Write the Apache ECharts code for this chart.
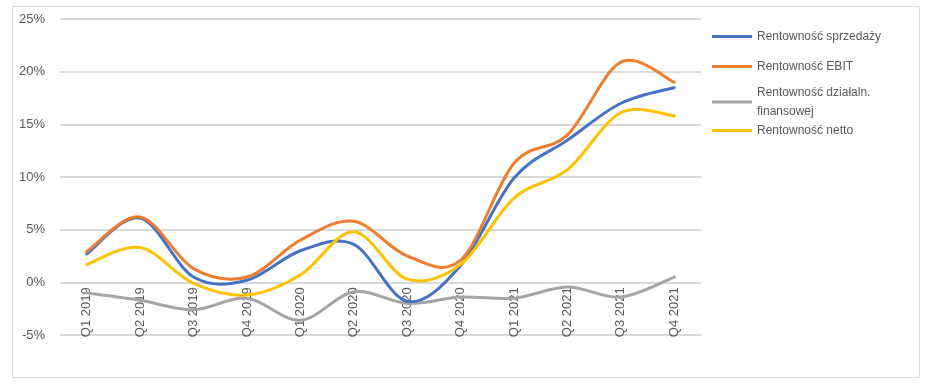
<!DOCTYPE html>
<html>
<head>
<meta charset="utf-8">
<script src="https://cdn.jsdelivr.net/npm/echarts@6/dist/echarts.min.js"></script>
<style>html,body{margin:0;padding:0;background:#fff}#c{width:928px;height:385px}</style>
</head>
<body>
<div id="c"></div>
<script>
const categories = ['Q1 2019','Q2 2019','Q3 2019','Q4 2019','Q1 2020','Q2 2020','Q3 2020','Q4 2020','Q1 2021','Q2 2021','Q3 2021','Q4 2021'];
const sprzedazy = [2.7, 6.1, 0.5, 0.2, 3.0, 3.6, -1.8, 1.6, 9.9, 13.5, 17.0, 18.5];
const ebit = [2.9, 6.2, 1.3, 0.5, 4.0, 5.8, 2.5, 2.1, 11.3, 14.0, 20.9, 19.0];
const finansowej = [-1.0, -1.7, -2.6, -1.5, -3.6, -0.9, -2.0, -1.4, -1.5, -0.45, -1.4, 0.5];
const netto = [1.7, 3.3, -0.1, -1.2, 0.7, 4.8, 0.3, 1.7, 8.0, 10.7, 16.1, 15.8];
const yTicks = {min: -5, max: 25, interval: 5};

const names = ['Rentowność sprzedaży','Rentowność EBIT','Rentowność działaln.\nfinansowej','Rentowność netto'];
const colors = ['#4472C4','#ED7D31','#A5A5A5','#FFC000'];
const dataSets = [sprzedazy, ebit, finansowej, netto];
const order = [2, 0, 1, 3]; // draw order (gray behind)
const font = 'Liberation Sans';
const legendTops = [27, 57, 83, 121];
const gridTop = 19, gridBottom = 50, H = 385;
const zeroOffset = -((H - gridTop - gridBottom) * (0 - yTicks.min) / (yTicks.max - yTicks.min));

function makeRender(arr, color) {
  return function (params, api) {
    if (params.dataIndex !== 0) return null;
    const pts = arr.map((v, i) => api.coord([i, v]));
    let d = 'M' + pts[0][0] + ' ' + pts[0][1];
    for (let i = 0; i < pts.length - 1; i++) {
      const p0 = pts[Math.max(i - 1, 0)], p1 = pts[i], p2 = pts[i + 1], p3 = pts[Math.min(i + 2, pts.length - 1)];
      const c1x = p1[0] + (p2[0] - p0[0]) / 6, c1y = p1[1] + (p2[1] - p0[1]) / 6;
      const c2x = p2[0] - (p3[0] - p1[0]) / 6, c2y = p2[1] - (p3[1] - p1[1]) / 6;
      d += ' C' + c1x + ' ' + c1y + ' ' + c2x + ' ' + c2y + ' ' + p2[0] + ' ' + p2[1];
    }
    return {type: 'path', shape: {pathData: d}, style: {fill: 'none', stroke: color, lineWidth: 3, lineCap: 'round', lineJoin: 'round'}};
  };
}

const chart = echarts.init(document.getElementById('c'));
chart.setOption({
  animation: false,
  textStyle: {fontFamily: font},
  graphic: [{type: 'rect', shape: {x: 12.5, y: 6.5, width: 907, height: 371}, style: {fill: 'none', stroke: '#d9d9d9', lineWidth: 1}, silent: true}],
  grid: {left: 60, right: 227, top: gridTop, bottom: gridBottom, containLabel: false, outerBoundsMode: 'none'},
  legend: names.map((n, i) => ({
    orient: 'vertical', left: 712, top: legendTops[i], data: [n], padding: 0,
    itemWidth: 40, itemHeight: 3, itemGap: 0, icon: 'rect',
    textStyle: {color: '#595959', fontSize: 12, fontFamily: font, lineHeight: 19},
    selectedMode: false
  })),
  xAxis: {
    type: 'category', data: categories, boundaryGap: true, position: 'bottom', offset: zeroOffset,
    axisLine: {show: false, onZero: false}, axisTick: {show: false},
    axisLabel: {rotate: 90, color: '#595959', fontSize: 13, margin: 5, fontFamily: font, interval: 0}
  },
  yAxis: {
    type: 'value', min: yTicks.min, max: yTicks.max, interval: yTicks.interval,
    axisLine: {show: false}, axisTick: {show: false},
    axisLabel: {formatter: '{value}%', color: '#595959', fontSize: 13, margin: 15, fontFamily: font},
    splitLine: {lineStyle: {color: '#d9d9d9', width: 2}}
  },
  series: order.map(i => ({
    name: names[i], type: 'custom', coordinateSystem: 'cartesian2d',
    data: dataSets[i].map((v, k) => [k, v]),
    encode: {x: 0, y: 1},
    renderItem: makeRender(dataSets[i], colors[i]),
    itemStyle: {color: colors[i]}, silent: true, z: 3
  }))
});
</script>
</body>
</html>
